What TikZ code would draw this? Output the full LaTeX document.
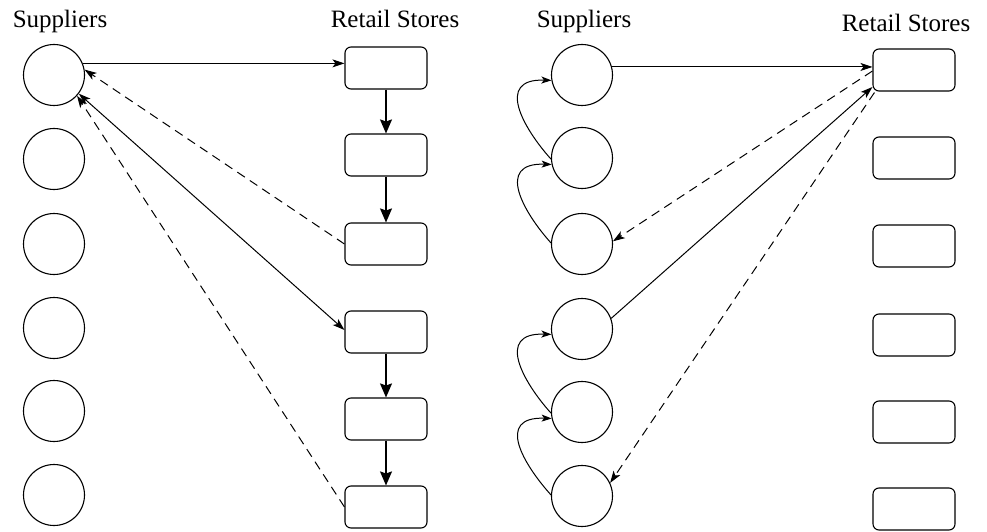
\documentclass[tikz,border=0pt]{standalone}
\usepackage{fontspec}
\setmainfont{Liberation Serif}
\usetikzlibrary{arrows.meta}

\begin{document}
\begin{tikzpicture}[x=1pt,y=1pt,
  supplier/.style={draw, circle, minimum size=61pt, inner sep=0pt, line width=1.1pt},
  store/.style={draw, rectangle, rounded corners=6pt, minimum width=82pt,
    minimum height=42pt, inner sep=0pt, line width=1.1pt},
  heading/.style={font=\fontsize{25}{29}\selectfont, anchor=base, inner sep=0pt},
  tipsmall/.tip={Stealth[length=12pt,width=8pt,inset=3pt]},
  flow/.style={line width=1pt, -tipsmall},
  flowboth/.style={line width=1pt, tipsmall-tipsmall},
  reply/.style={line width=1pt, dash pattern=on 9pt off 6pt, -tipsmall},
  chain/.style={line width=1.2pt, -{Stealth[length=14pt,width=12pt,inset=2pt]}},
  pass/.style={line width=1pt, -{Stealth[length=10pt,width=7pt,inset=2.5pt]}}
]
\useasboundingbox (0,0) rectangle (987,531);

% column headings
\node[heading] (hl1) at (60,503) {Suppliers};
\node[heading] (hl2) at (395,503) {Retail Stores};
\node[heading] (hr1) at (584,503) {Suppliers};
\node[heading] (hr2) at (906,499) {Retail Stores};

% left network: suppliers and stores
\foreach \i/\y in {1/456,2/372,3/287,4/203,5/120,6/36}
  \node[supplier] (ls\i) at (54,\y) {};
\foreach \i/\y in {1/463,2/376,3/287,4/199,5/112,6/24}
  \node[store] (lr\i) at (386,\y) {};

% right network: suppliers and stores
\foreach \i/\y in {1/456,2/373,3/287,4/202,5/119,6/35}
  \node[supplier] (rs\i) at (582,\y) {};
\foreach \i/\y in {1/461,2/373,3/285,4/196,5/109,6/22}
  \node[store] (rr\i) at (914,\y) {};

% left: shipments from one supplier, passed down the store chain
\draw[flow] (ls1.22) -- (ls1.22 -| lr1.west);
\draw[reply] (lr3.west) -- (ls1.10);
\draw[flowboth] (ls1.-37) -- ([yshift=2pt]lr4.west);
\draw[reply] (lr6.west) -- (ls1.-42);
\draw[chain] (lr1.south) -- (lr2.north);
\draw[chain] (lr2.south) -- (lr3.north);
\draw[chain] (lr4.south) -- (lr5.north);
\draw[chain] (lr5.south) -- (lr6.north);

% right: one store served by several suppliers
\draw[flow] (rs1.15) -- (rs1.15 -| rr1.west);
\draw[reply] ([yshift=-1pt]rr1.west) -- (rs3.5);
\draw[flow] (rs4.20) -- ([yshift=-17pt]rr1.west);
\draw[reply] ([shift={(2pt,-1pt)}]rr1.south west) -- (rs6.25);

% right: hand-over between neighbouring suppliers
\draw[pass] (rs2.182) .. controls +(-27,30) and +(-57,2) .. (rs1.190);
\draw[pass] (rs3.178) .. controls +(-27,30) and +(-57,2) .. (rs2.192);
\draw[pass] (rs5.182) .. controls +(-27,30) and +(-57,2) .. (rs4.190);
\draw[pass] (rs6.178) .. controls +(-27,30) and +(-57,2) .. (rs5.192);
\end{tikzpicture}
\end{document}
